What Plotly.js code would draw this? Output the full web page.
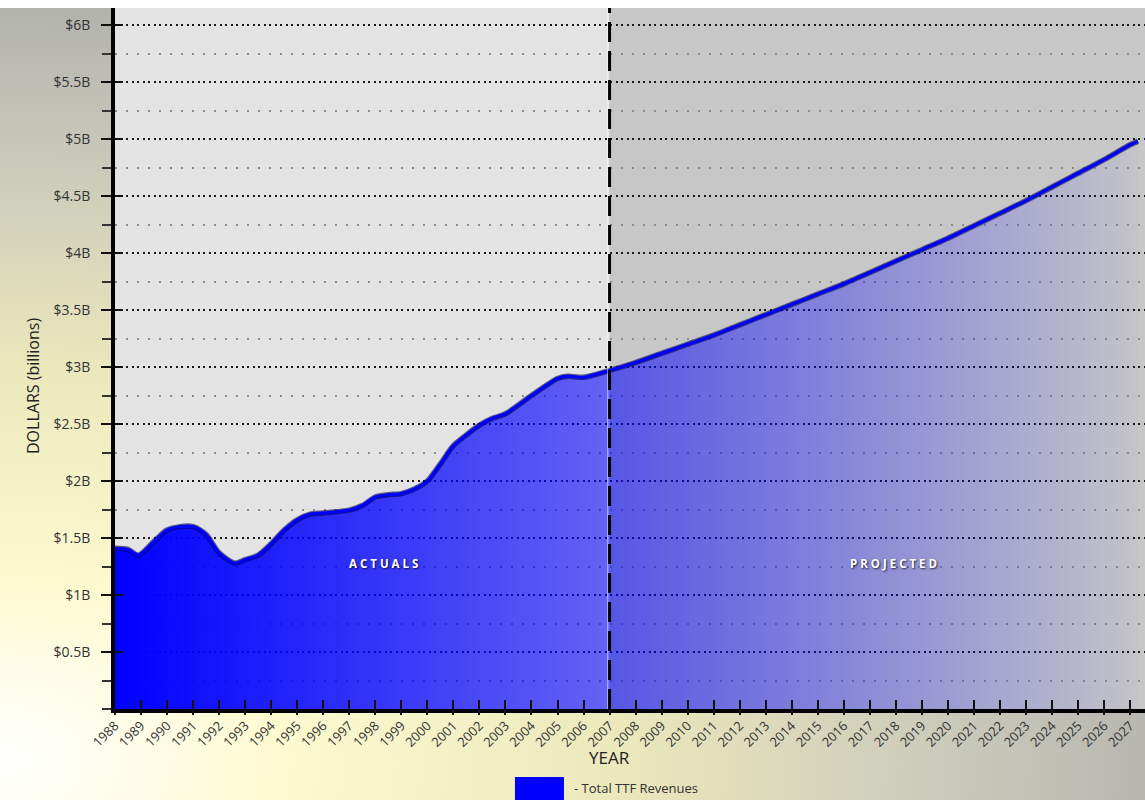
<!DOCTYPE html>
<html>
<head>
<meta charset="utf-8">
<script src="https://cdn.plot.ly/plotly-3.0.1.min.js"></script>
<style>
  body { margin: 0; }
  #ttf-chart {
    width: 1145px;
    height: 800px;
    background:
      linear-gradient(to bottom, #ffffff 0, #ffffff 8px, rgba(255,255,255,0) 8px),
      radial-gradient(ellipse 1300px 820px at 0px 760px, #ffffff 0%, #fdfad0 22%, #ebe8bc 48%, #cbcbbb 72%, #a9a9a9 100%);
  }
</style>
</head>
<body>
<div id="ttf-chart"></div>
<script>
'use strict';

const actualYears = [1988, 1988.5, 1988.9, 1989.5, 1990, 1990.5, 1991, 1991.5, 1992, 1992.6,
    1993, 1993.5, 1994, 1994.5, 1995, 1995.5, 1996, 1997, 1997.5, 1998, 1998.5,
    1999, 1999.5, 2000, 2000.5, 2001, 2001.5, 2002, 2002.5, 2003, 2004, 2005, 2005.4, 2006, 2007];
const actualRevenue = [1.41, 1.40, 1.35, 1.47, 1.57, 1.60, 1.60, 1.53, 1.37, 1.28,
    1.31, 1.35, 1.45, 1.57, 1.66, 1.71, 1.72, 1.745, 1.785, 1.86, 1.88,
    1.89, 1.93, 2.00, 2.15, 2.31, 2.405, 2.49, 2.55, 2.59, 2.75, 2.90, 2.92, 2.91, 2.97];

// projected revenue, $ billions
const projectedYears = [2007, 2008, 2009, 2010, 2011, 2012, 2013, 2014, 2015, 2016, 2017,
    2018, 2019, 2020, 2021, 2022, 2023, 2024, 2025, 2026, 2027, 2027.3];
const projectedRevenue = [2.97, 3.04, 3.12, 3.20, 3.28, 3.37, 3.46, 3.55, 3.64, 3.73, 3.83,
    3.93, 4.03, 4.13, 4.24, 4.35, 4.46, 4.58, 4.70, 4.82, 4.95, 4.98];

const tickYears = [1988, 1989, 1990, 1991, 1992, 1993, 1994, 1995, 1996, 1997, 1998, 1999,
    2000, 2001, 2002, 2003, 2004, 2005, 2006, 2007, 2008, 2009, 2010, 2011, 2012, 2013,
    2014, 2015, 2016, 2017, 2018, 2019, 2020, 2021, 2022, 2023, 2024, 2025, 2026, 2027];
const dollarTicks = [0.5, 1, 1.5, 2, 2.5, 3, 3.5, 4, 4.5, 5, 5.5, 6];
const dollarLabels = ['$0.5B', '$1B', '$1.5B', '$2B', '$2.5B', '$3B', '$3.5B', '$4B', '$4.5B', '$5B', '$5.5B', '$6B'];

const splitYear = 2007;
const seriesName = '- Total TTF Revenues';

const years = actualYears.concat(projectedYears.slice(1));
const revenue = actualRevenue.concat(projectedRevenue.slice(1));

const fontFamily = '"Open Sans", "Noto Sans", sans-serif';
const labelShadow = '1px 1px 2px rgba(0,0,0,0.75)';

const areaTrace = {
    x: years,
    y: revenue,
    type: 'scatter',
    mode: 'lines',
    fill: 'tozeroy',
    fillgradient: {
        type: 'horizontal',
        start: years[0],
        stop: years[years.length - 1],
        colorscale: [
            [0, 'rgba(0,0,255,1)'],
            [0.5, 'rgba(0,0,255,0.55)'],
            [1, 'rgba(0,0,255,0.02)']
        ]
    },
    line: { width: 0, shape: 'spline', smoothing: 0.8 },
    hoverinfo: 'skip',
    showlegend: false
}

const shadowTrace = {
    x: years,
    y: revenue,
    type: 'scatter',
    mode: 'lines',
    line: { color: 'rgba(0,0,70,0.6)', width: 5.5, shape: 'spline', smoothing: 0.8 },
    hoverinfo: 'skip',
    showlegend: false
}

const lineTrace = {
    x: years,
    y: revenue,
    type: 'scatter',
    mode: 'lines',
    name: seriesName,
    line: { color: '#0000ff', width: 3.2, shape: 'spline', smoothing: 0.8 },
    showlegend: false
}

// empty trace so the overlay axes (second half of crossing tick marks) get drawn
const tickTrace = {
    x: [],
    y: [],
    xaxis: 'x2',
    yaxis: 'y2',
    type: 'scatter',
    hoverinfo: 'skip',
    showlegend: false
}

const xRange = [1988, 2027.57];
const yRange = [0, 6.15];

const layout = {
    width: 1145,
    height: 800,
    margin: { l: 115, r: 0, t: 8, b: 91 },
    paper_bgcolor: 'rgba(0,0,0,0)',
    plot_bgcolor: 'rgba(0,0,0,0)',
    font: { family: fontFamily, color: '#333' },
    showlegend: false,
    xaxis: {
        range: xRange,
        tickvals: tickYears,
        ticktext: tickYears.map(String),
        tickangle: -45,
        ticks: 'inside',
        ticklen: 9,
        tickwidth: 2,
        tickcolor: '#111',
        tickfont: { size: 13, color: '#333' },
        showline: true,
        linewidth: 4,
        linecolor: '#000',
        showgrid: false,
        zeroline: false,
        fixedrange: true
    },
    yaxis: {
        range: yRange,
        tickvals: dollarTicks,
        ticktext: dollarLabels,
        ticks: 'outside',
        ticklen: 10,
        tickwidth: 2.5,
        tickcolor: '#111',
        ticklabelstandoff: 8,
        tickfont: { size: 14, color: '#333' },
        showline: true,
        linewidth: 4,
        linecolor: '#000',
        showgrid: true,
        gridcolor: '#1a1a1a',
        gridwidth: 2,
        griddash: '2px,3.5px',
        minor: {
            dtick: 0.25,
            tick0: 0,
            ticks: 'outside',
            ticklen: 9,
            tickwidth: 2,
            tickcolor: '#333',
            showgrid: true,
            gridcolor: '#8c8c8c',
            gridwidth: 2,
            griddash: '2px,9px'
        },
        zeroline: false,
        fixedrange: true
    },
    xaxis2: {
        overlaying: 'x',
        range: xRange,
        tickvals: tickYears,
        ticks: 'outside',
        ticklen: 5,
        tickwidth: 2,
        tickcolor: '#111',
        showticklabels: false,
        showgrid: false,
        zeroline: false,
        fixedrange: true
    },
    yaxis2: {
        overlaying: 'y',
        range: yRange,
        tickvals: dollarTicks,
        ticks: 'inside',
        ticklen: 8,
        tickwidth: 2.5,
        tickcolor: '#111',
        showticklabels: false,
        showgrid: false,
        zeroline: false,
        fixedrange: true
    },
    shapes: [
        // actuals / projected panels
        { type: 'rect', layer: 'below', xref: 'x', yref: 'paper', x0: xRange[0], x1: splitYear, y0: 0, y1: 1,
          fillcolor: '#e3e3e3', line: { width: 0 } },
        { type: 'rect', layer: 'below', xref: 'x', yref: 'paper', x0: splitYear, x1: xRange[1], y0: 0, y1: 1,
          fillcolor: '#c7c7c7', line: { width: 0 } },
        { type: 'line', xref: 'x', yref: 'paper', x0: splitYear - 0.07, x1: splitYear - 0.07, y0: 0, y1: 1,
          line: { color: 'rgba(255,255,255,0.6)', width: 1 } },
        { type: 'line', xref: 'x', yref: 'paper', x0: splitYear, x1: splitYear, y0: 0, y1: 1,
          line: { color: '#000', width: 3, dash: '20px,9px' } },
        // legend key
        { type: 'rect', xref: 'paper', yref: 'paper', x0: 0.3883, x1: 0.4359, y0: -0.1298, y1: -0.097,
          fillcolor: '#0000ff', line: { width: 0 } }
    ],
    annotations: [
        { text: 'A C T U A L S', xref: 'x', yref: 'y', x: 1998.3, y: 1.28, showarrow: false,
          font: { size: 11.5, color: '#fff', weight: 'bold', shadow: labelShadow } },
        { text: 'P R O J E C T E D', xref: 'x', yref: 'y', x: 2017.9, y: 1.28, showarrow: false,
          font: { size: 11.5, color: '#fff', weight: 'bold', shadow: labelShadow } },
        { text: 'YEAR', xref: 'x', yref: 'paper', x: splitYear, y: -0.0699, yanchor: 'middle', showarrow: false,
          font: { size: 17, color: '#222' } },
        { text: 'DOLLARS (billions)', xref: 'paper', yref: 'paper', x: -0.0796, y: 0.4608, textangle: -90,
          xanchor: 'center', yanchor: 'middle', showarrow: false, font: { size: 16, color: '#222' } },
        { text: seriesName, xref: 'paper', yref: 'paper', x: 0.4434, y: -0.1127, xanchor: 'left', yanchor: 'middle',
          showarrow: false, font: { size: 13, color: '#333' } }
    ]
};

const data = [areaTrace, shadowTrace, lineTrace, tickTrace];

Plotly.newPlot('ttf-chart', data, layout, { displayModeBar: false, staticPlot: true });
</script>
</body>
</html>
